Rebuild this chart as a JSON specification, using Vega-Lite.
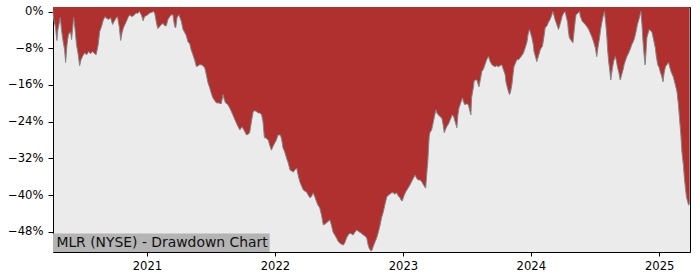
{
  "$schema": "https://vega.github.io/schema/vega-lite/v6.json",
  "width": 637,
  "height": 245,
  "autosize": {"type": "none"},
  "padding": {"left": 53, "top": 7, "right": 10, "bottom": 28},
  "background": "white",
  "config": {
    "view": {"fill": "#ebebeb", "stroke": "#000000", "strokeWidth": 1},
    "font": "DejaVu Sans"
  },
  "data": {"values": [
    {"date":"2020-04-08","drawdown":0},{"date":"2020-04-10","drawdown":-1.7},{"date":"2020-04-15","drawdown":-3.3},{"date":"2020-04-19","drawdown":-6.3},{"date":"2020-04-22","drawdown":-3.9},{"date":"2020-04-29","drawdown":-1.3},{"date":"2020-05-02","drawdown":-3.9},{"date":"2020-05-07","drawdown":-6.6},{"date":"2020-05-11","drawdown":-8.3},{"date":"2020-05-14","drawdown":-11.1},{"date":"2020-05-18","drawdown":-7.2},{"date":"2020-05-22","drawdown":-5.0},{"date":"2020-05-28","drawdown":-4.4},{"date":"2020-05-31","drawdown":-6.1},{"date":"2020-06-06","drawdown":-1.3},{"date":"2020-06-10","drawdown":-3.9},{"date":"2020-06-14","drawdown":-7.2},{"date":"2020-06-19","drawdown":-9.4},{"date":"2020-06-23","drawdown":-11.8},{"date":"2020-06-27","drawdown":-10.5},{"date":"2020-07-01","drawdown":-9.8},{"date":"2020-07-07","drawdown":-9.0},{"date":"2020-07-13","drawdown":-9.4},{"date":"2020-07-19","drawdown":-8.7},{"date":"2020-07-24","drawdown":-9.2},{"date":"2020-07-30","drawdown":-8.7},{"date":"2020-08-05","drawdown":-9.2},{"date":"2020-08-09","drawdown":-9.4},{"date":"2020-08-15","drawdown":-7.2},{"date":"2020-08-19","drawdown":-4.4},{"date":"2020-08-25","drawdown":-3.1},{"date":"2020-08-30","drawdown":-1.7},{"date":"2020-09-04","drawdown":-1.1},{"date":"2020-09-08","drawdown":-1.5},{"date":"2020-09-14","drawdown":-1.7},{"date":"2020-09-19","drawdown":-1.3},{"date":"2020-09-25","drawdown":-2.8},{"date":"2020-09-29","drawdown":-2.2},{"date":"2020-10-06","drawdown":-1.3},{"date":"2020-10-09","drawdown":-1.1},{"date":"2020-10-14","drawdown":-3.3},{"date":"2020-10-18","drawdown":-6.3},{"date":"2020-10-22","drawdown":-4.6},{"date":"2020-10-26","drawdown":-3.5},{"date":"2020-11-03","drawdown":-2.2},{"date":"2020-11-08","drawdown":-1.3},{"date":"2020-11-13","drawdown":-0.7},{"date":"2020-11-18","drawdown":-1.1},{"date":"2020-11-24","drawdown":-0.9},{"date":"2020-12-01","drawdown":-0.3},{"date":"2020-12-05","drawdown":-0.4},{"date":"2020-12-11","drawdown":0},{"date":"2020-12-17","drawdown":-0.9},{"date":"2020-12-21","drawdown":-2.0},{"date":"2020-12-25","drawdown":-1.1},{"date":"2021-01-03","drawdown":-0.7},{"date":"2021-01-09","drawdown":-0.3},{"date":"2021-01-14","drawdown":-0.2},{"date":"2021-01-19","drawdown":0},{"date":"2021-01-23","drawdown":-0.3},{"date":"2021-01-29","drawdown":-2.8},{"date":"2021-02-01","drawdown":-3.7},{"date":"2021-02-06","drawdown":-3.3},{"date":"2021-02-11","drawdown":-2.8},{"date":"2021-02-16","drawdown":-2.6},{"date":"2021-02-21","drawdown":-3.1},{"date":"2021-02-25","drawdown":-3.1},{"date":"2021-03-02","drawdown":-1.7},{"date":"2021-03-07","drawdown":-1.1},{"date":"2021-03-12","drawdown":-0.7},{"date":"2021-03-16","drawdown":-0.7},{"date":"2021-03-21","drawdown":-3.3},{"date":"2021-03-24","drawdown":-3.5},{"date":"2021-03-28","drawdown":-1.3},{"date":"2021-04-02","drawdown":-0.7},{"date":"2021-04-09","drawdown":-2.1},{"date":"2021-04-14","drawdown":-3.9},{"date":"2021-04-19","drawdown":-4.6},{"date":"2021-04-23","drawdown":-5.2},{"date":"2021-04-28","drawdown":-6.6},{"date":"2021-05-03","drawdown":-7.0},{"date":"2021-05-07","drawdown":-8.3},{"date":"2021-05-12","drawdown":-9.4},{"date":"2021-05-17","drawdown":-10.5},{"date":"2021-05-22","drawdown":-12.0},{"date":"2021-05-27","drawdown":-11.8},{"date":"2021-05-31","drawdown":-11.6},{"date":"2021-06-05","drawdown":-11.6},{"date":"2021-06-10","drawdown":-11.8},{"date":"2021-06-15","drawdown":-12.3},{"date":"2021-06-20","drawdown":-14.0},{"date":"2021-06-24","drawdown":-15.5},{"date":"2021-06-29","drawdown":-16.6},{"date":"2021-07-03","drawdown":-17.7},{"date":"2021-07-08","drawdown":-18.8},{"date":"2021-07-13","drawdown":-19.4},{"date":"2021-07-18","drawdown":-19.9},{"date":"2021-07-23","drawdown":-19.9},{"date":"2021-07-28","drawdown":-20.0},{"date":"2021-08-01","drawdown":-20.1},{"date":"2021-08-06","drawdown":-18.1},{"date":"2021-08-09","drawdown":-19.0},{"date":"2021-08-13","drawdown":-19.9},{"date":"2021-08-17","drawdown":-20.1},{"date":"2021-08-20","drawdown":-20.3},{"date":"2021-08-25","drawdown":-21.0},{"date":"2021-08-30","drawdown":-21.8},{"date":"2021-09-04","drawdown":-22.7},{"date":"2021-09-08","drawdown":-23.4},{"date":"2021-09-13","drawdown":-24.3},{"date":"2021-09-18","drawdown":-25.1},{"date":"2021-09-23","drawdown":-25.8},{"date":"2021-09-29","drawdown":-25.1},{"date":"2021-10-06","drawdown":-26.0},{"date":"2021-10-12","drawdown":-26.9},{"date":"2021-10-17","drawdown":-26.7},{"date":"2021-10-21","drawdown":-26.4},{"date":"2021-10-26","drawdown":-24.0},{"date":"2021-10-31","drawdown":-21.8},{"date":"2021-11-05","drawdown":-21.6},{"date":"2021-11-09","drawdown":-21.8},{"date":"2021-11-15","drawdown":-22.1},{"date":"2021-11-19","drawdown":-22.1},{"date":"2021-11-24","drawdown":-22.5},{"date":"2021-11-28","drawdown":-24.0},{"date":"2021-12-02","drawdown":-27.5},{"date":"2021-12-05","drawdown":-27.5},{"date":"2021-12-13","drawdown":-28.0},{"date":"2021-12-17","drawdown":-29.1},{"date":"2021-12-22","drawdown":-30.2},{"date":"2021-12-27","drawdown":-29.3},{"date":"2022-01-01","drawdown":-28.6},{"date":"2022-01-05","drawdown":-28.0},{"date":"2022-01-10","drawdown":-26.9},{"date":"2022-01-17","drawdown":-26.9},{"date":"2022-01-21","drawdown":-28.2},{"date":"2022-01-24","drawdown":-29.7},{"date":"2022-01-29","drawdown":-30.6},{"date":"2022-02-03","drawdown":-31.9},{"date":"2022-02-08","drawdown":-33.0},{"date":"2022-02-13","drawdown":-34.5},{"date":"2022-02-17","drawdown":-34.7},{"date":"2022-02-22","drawdown":-35.0},{"date":"2022-02-27","drawdown":-34.5},{"date":"2022-03-04","drawdown":-34.1},{"date":"2022-03-08","drawdown":-35.6},{"date":"2022-03-13","drawdown":-37.1},{"date":"2022-03-18","drawdown":-38.0},{"date":"2022-03-23","drawdown":-38.9},{"date":"2022-03-27","drawdown":-39.1},{"date":"2022-04-01","drawdown":-39.3},{"date":"2022-04-06","drawdown":-40.0},{"date":"2022-04-11","drawdown":-40.6},{"date":"2022-04-16","drawdown":-40.2},{"date":"2022-04-20","drawdown":-39.5},{"date":"2022-04-25","drawdown":-40.4},{"date":"2022-04-30","drawdown":-41.5},{"date":"2022-05-04","drawdown":-42.2},{"date":"2022-05-09","drawdown":-42.8},{"date":"2022-05-14","drawdown":-44.4},{"date":"2022-05-19","drawdown":-46.5},{"date":"2022-05-24","drawdown":-46.3},{"date":"2022-05-28","drawdown":-46.1},{"date":"2022-06-02","drawdown":-45.7},{"date":"2022-06-07","drawdown":-45.4},{"date":"2022-06-12","drawdown":-46.8},{"date":"2022-06-16","drawdown":-48.1},{"date":"2022-06-21","drawdown":-48.7},{"date":"2022-06-26","drawdown":-49.4},{"date":"2022-06-30","drawdown":-50.0},{"date":"2022-07-05","drawdown":-50.5},{"date":"2022-07-10","drawdown":-50.7},{"date":"2022-07-15","drawdown":-50.9},{"date":"2022-07-20","drawdown":-50.3},{"date":"2022-07-24","drawdown":-49.4},{"date":"2022-07-29","drawdown":-48.7},{"date":"2022-08-03","drawdown":-48.3},{"date":"2022-08-08","drawdown":-48.5},{"date":"2022-08-12","drawdown":-48.7},{"date":"2022-08-17","drawdown":-48.1},{"date":"2022-08-22","drawdown":-47.6},{"date":"2022-08-27","drawdown":-47.9},{"date":"2022-08-31","drawdown":-48.1},{"date":"2022-09-05","drawdown":-48.3},{"date":"2022-09-10","drawdown":-48.7},{"date":"2022-09-15","drawdown":-48.9},{"date":"2022-09-20","drawdown":-49.4},{"date":"2022-09-24","drawdown":-50.9},{"date":"2022-09-27","drawdown":-51.6},{"date":"2022-10-02","drawdown":-52.2},{"date":"2022-10-05","drawdown":-52.0},{"date":"2022-10-08","drawdown":-51.3},{"date":"2022-10-13","drawdown":-50.3},{"date":"2022-10-18","drawdown":-49.4},{"date":"2022-10-23","drawdown":-48.1},{"date":"2022-10-28","drawdown":-46.5},{"date":"2022-11-01","drawdown":-45.0},{"date":"2022-11-06","drawdown":-43.7},{"date":"2022-11-11","drawdown":-42.0},{"date":"2022-11-16","drawdown":-40.4},{"date":"2022-11-21","drawdown":-40.0},{"date":"2022-11-25","drawdown":-39.8},{"date":"2022-11-30","drawdown":-39.5},{"date":"2022-12-05","drawdown":-39.5},{"date":"2022-12-09","drawdown":-39.8},{"date":"2022-12-14","drawdown":-39.5},{"date":"2022-12-19","drawdown":-40.2},{"date":"2022-12-24","drawdown":-40.6},{"date":"2022-12-27","drawdown":-41.1},{"date":"2022-12-30","drawdown":-41.3},{"date":"2023-01-04","drawdown":-40.2},{"date":"2023-01-09","drawdown":-39.3},{"date":"2023-01-14","drawdown":-38.7},{"date":"2023-01-21","drawdown":-37.8},{"date":"2023-01-27","drawdown":-36.9},{"date":"2023-01-31","drawdown":-36.3},{"date":"2023-02-05","drawdown":-35.6},{"date":"2023-02-09","drawdown":-36.3},{"date":"2023-02-14","drawdown":-36.7},{"date":"2023-02-19","drawdown":-36.7},{"date":"2023-02-24","drawdown":-37.1},{"date":"2023-03-01","drawdown":-37.8},{"date":"2023-03-07","drawdown":-38.5},{"date":"2023-03-11","drawdown":-34.5},{"date":"2023-03-13","drawdown":-32.8},{"date":"2023-03-17","drawdown":-27.3},{"date":"2023-03-19","drawdown":-26.4},{"date":"2023-03-24","drawdown":-25.8},{"date":"2023-03-29","drawdown":-24.0},{"date":"2023-04-05","drawdown":-21.4},{"date":"2023-04-08","drawdown":-22.1},{"date":"2023-04-12","drawdown":-22.5},{"date":"2023-04-17","drawdown":-22.9},{"date":"2023-04-22","drawdown":-23.2},{"date":"2023-04-26","drawdown":-24.7},{"date":"2023-04-29","drawdown":-26.4},{"date":"2023-05-03","drawdown":-25.6},{"date":"2023-05-06","drawdown":-25.1},{"date":"2023-05-11","drawdown":-24.5},{"date":"2023-05-16","drawdown":-23.6},{"date":"2023-05-22","drawdown":-22.5},{"date":"2023-05-26","drawdown":-22.9},{"date":"2023-05-30","drawdown":-24.0},{"date":"2023-06-04","drawdown":-25.3},{"date":"2023-06-07","drawdown":-22.5},{"date":"2023-06-10","drawdown":-21.0},{"date":"2023-06-15","drawdown":-19.9},{"date":"2023-06-20","drawdown":-18.8},{"date":"2023-06-23","drawdown":-19.7},{"date":"2023-06-27","drawdown":-20.3},{"date":"2023-07-02","drawdown":-20.1},{"date":"2023-07-07","drawdown":-20.3},{"date":"2023-07-10","drawdown":-21.4},{"date":"2023-07-14","drawdown":-22.5},{"date":"2023-07-16","drawdown":-18.8},{"date":"2023-07-21","drawdown":-16.6},{"date":"2023-07-23","drawdown":-15.3},{"date":"2023-07-26","drawdown":-14.9},{"date":"2023-07-31","drawdown":-14.9},{"date":"2023-08-06","drawdown":-16.4},{"date":"2023-08-11","drawdown":-14.4},{"date":"2023-08-14","drawdown":-13.1},{"date":"2023-08-19","drawdown":-12.5},{"date":"2023-08-23","drawdown":-11.6},{"date":"2023-08-28","drawdown":-10.5},{"date":"2023-09-02","drawdown":-9.8},{"date":"2023-09-07","drawdown":-10.9},{"date":"2023-09-12","drawdown":-11.6},{"date":"2023-09-16","drawdown":-11.8},{"date":"2023-09-21","drawdown":-12.0},{"date":"2023-09-26","drawdown":-11.8},{"date":"2023-09-30","drawdown":-12.0},{"date":"2023-10-05","drawdown":-11.8},{"date":"2023-10-10","drawdown":-11.6},{"date":"2023-10-15","drawdown":-12.7},{"date":"2023-10-20","drawdown":-13.8},{"date":"2023-10-22","drawdown":-15.3},{"date":"2023-10-26","drawdown":-16.6},{"date":"2023-11-01","drawdown":-18.1},{"date":"2023-11-04","drawdown":-17.5},{"date":"2023-11-08","drawdown":-15.9},{"date":"2023-11-11","drawdown":-13.8},{"date":"2023-11-14","drawdown":-12.0},{"date":"2023-11-19","drawdown":-11.1},{"date":"2023-11-22","drawdown":-10.5},{"date":"2023-11-27","drawdown":-10.5},{"date":"2023-12-01","drawdown":-10.1},{"date":"2023-12-06","drawdown":-9.6},{"date":"2023-12-11","drawdown":-9.0},{"date":"2023-12-16","drawdown":-7.9},{"date":"2023-12-21","drawdown":-6.6},{"date":"2023-12-24","drawdown":-5.0},{"date":"2023-12-28","drawdown":-3.9},{"date":"2023-12-31","drawdown":-4.6},{"date":"2024-01-04","drawdown":-5.7},{"date":"2024-01-08","drawdown":-7.2},{"date":"2024-01-10","drawdown":-8.7},{"date":"2024-01-14","drawdown":-9.8},{"date":"2024-01-18","drawdown":-10.9},{"date":"2024-01-23","drawdown":-9.6},{"date":"2024-01-28","drawdown":-8.3},{"date":"2024-01-31","drawdown":-7.9},{"date":"2024-02-03","drawdown":-7.6},{"date":"2024-02-07","drawdown":-5.7},{"date":"2024-02-11","drawdown":-3.5},{"date":"2024-02-16","drawdown":-3.1},{"date":"2024-02-20","drawdown":-2.4},{"date":"2024-02-25","drawdown":-1.7},{"date":"2024-02-29","drawdown":-0.9},{"date":"2024-03-04","drawdown":0},{"date":"2024-03-08","drawdown":-1.1},{"date":"2024-03-10","drawdown":-1.7},{"date":"2024-03-15","drawdown":-2.8},{"date":"2024-03-20","drawdown":-3.9},{"date":"2024-03-25","drawdown":-2.6},{"date":"2024-03-30","drawdown":-1.1},{"date":"2024-04-03","drawdown":-0.4},{"date":"2024-04-08","drawdown":0},{"date":"2024-04-11","drawdown":-1.1},{"date":"2024-04-15","drawdown":-2.4},{"date":"2024-04-17","drawdown":-4.2},{"date":"2024-04-20","drawdown":-5.7},{"date":"2024-04-25","drawdown":-6.3},{"date":"2024-04-30","drawdown":-6.8},{"date":"2024-05-04","drawdown":-3.9},{"date":"2024-05-07","drawdown":-1.7},{"date":"2024-05-09","drawdown":-0.7},{"date":"2024-05-14","drawdown":-0.3},{"date":"2024-05-19","drawdown":0},{"date":"2024-05-21","drawdown":-1.0},{"date":"2024-05-26","drawdown":-2.0},{"date":"2024-05-30","drawdown":-2.4},{"date":"2024-06-04","drawdown":-2.8},{"date":"2024-06-09","drawdown":-3.3},{"date":"2024-06-14","drawdown":-3.9},{"date":"2024-06-18","drawdown":-4.6},{"date":"2024-06-23","drawdown":-5.5},{"date":"2024-06-28","drawdown":-6.6},{"date":"2024-07-03","drawdown":-7.9},{"date":"2024-07-07","drawdown":-9.8},{"date":"2024-07-11","drawdown":-7.6},{"date":"2024-07-15","drawdown":-5.7},{"date":"2024-07-18","drawdown":-3.9},{"date":"2024-07-22","drawdown":-2.2},{"date":"2024-07-25","drawdown":-1.1},{"date":"2024-07-29","drawdown":0},{"date":"2024-08-02","drawdown":-2.8},{"date":"2024-08-05","drawdown":-5.7},{"date":"2024-08-07","drawdown":-8.3},{"date":"2024-08-10","drawdown":-10.9},{"date":"2024-08-13","drawdown":-12.7},{"date":"2024-08-16","drawdown":-14.9},{"date":"2024-08-20","drawdown":-12.7},{"date":"2024-08-24","drawdown":-10.9},{"date":"2024-08-29","drawdown":-9.8},{"date":"2024-09-01","drawdown":-10.7},{"date":"2024-09-04","drawdown":-12.0},{"date":"2024-09-08","drawdown":-13.3},{"date":"2024-09-12","drawdown":-14.9},{"date":"2024-09-16","drawdown":-13.8},{"date":"2024-09-20","drawdown":-12.7},{"date":"2024-09-23","drawdown":-11.6},{"date":"2024-09-26","drawdown":-10.9},{"date":"2024-10-01","drawdown":-9.8},{"date":"2024-10-06","drawdown":-9.0},{"date":"2024-10-11","drawdown":-8.1},{"date":"2024-10-15","drawdown":-7.2},{"date":"2024-10-19","drawdown":-6.6},{"date":"2024-10-23","drawdown":-5.7},{"date":"2024-10-27","drawdown":-4.4},{"date":"2024-10-31","drawdown":-2.8},{"date":"2024-11-05","drawdown":-1.5},{"date":"2024-11-10","drawdown":0},{"date":"2024-11-13","drawdown":-2.8},{"date":"2024-11-16","drawdown":-6.6},{"date":"2024-11-19","drawdown":-9.4},{"date":"2024-11-22","drawdown":-11.6},{"date":"2024-11-25","drawdown":-8.3},{"date":"2024-11-27","drawdown":-5.7},{"date":"2024-12-01","drawdown":-4.6},{"date":"2024-12-04","drawdown":-3.9},{"date":"2024-12-08","drawdown":-4.2},{"date":"2024-12-12","drawdown":-4.6},{"date":"2024-12-16","drawdown":-6.1},{"date":"2024-12-21","drawdown":-7.9},{"date":"2024-12-24","drawdown":-9.8},{"date":"2024-12-28","drawdown":-11.6},{"date":"2025-01-01","drawdown":-12.2},{"date":"2025-01-04","drawdown":-13.1},{"date":"2025-01-08","drawdown":-14.0},{"date":"2025-01-12","drawdown":-15.3},{"date":"2025-01-15","drawdown":-13.5},{"date":"2025-01-19","drawdown":-12.0},{"date":"2025-01-23","drawdown":-11.6},{"date":"2025-01-28","drawdown":-11.1},{"date":"2025-01-31","drawdown":-12.0},{"date":"2025-02-04","drawdown":-13.1},{"date":"2025-02-08","drawdown":-13.8},{"date":"2025-02-11","drawdown":-14.4},{"date":"2025-02-16","drawdown":-15.9},{"date":"2025-02-21","drawdown":-17.5},{"date":"2025-02-25","drawdown":-20.3},{"date":"2025-02-28","drawdown":-23.2},{"date":"2025-03-04","drawdown":-26.9},{"date":"2025-03-07","drawdown":-30.6},{"date":"2025-03-11","drawdown":-33.4},{"date":"2025-03-14","drawdown":-36.3},{"date":"2025-03-17","drawdown":-38.5},{"date":"2025-03-20","drawdown":-40.4},{"date":"2025-03-23","drawdown":-41.3},{"date":"2025-03-26","drawdown":-42.2},{"date":"2025-03-29","drawdown":-41.7}
  ]},
  "layer": [
    {
      "mark": {"type": "area", "color": "#b03030", "interpolate": "linear"},
      "encoding": {
        "x": {
          "field": "date", "type": "temporal",
          "scale": {"type": "utc", "domain": [1586304000000, 1743292800000], "nice": false},
          "axis": {
            "title": null, "grid": false, "domain": false,
            "values": [1609459200000, 1640995200000, 1672531200000, 1704067200000, 1735689600000],
            "labelExpr": "utcFormat(datum.value, '%Y')",
            "tickColor": "#000000", "tickSize": 4, "tickWidth": 1,
            "labelColor": "#000000", "labelFont": "DejaVu Sans", "labelFontSize": 11.6, "labelPadding": 4, "labelFlush": false
          }
        },
        "y": {
          "field": "drawdown", "type": "quantitative",
          "scale": {"domain": [-52.4, 1.0], "nice": false, "zero": false},
          "axis": {
            "title": null, "grid": false, "domain": false,
            "values": [0, -8, -16, -24, -32, -40, -48],
            "labelExpr": "format(datum.value, 'd') + '%'",
            "tickColor": "#000000", "tickSize": 5, "tickWidth": 1,
            "labelColor": "#000000", "labelFont": "DejaVu Sans", "labelFontSize": 11.6, "labelPadding": 5
          }
        },
        "y2": {"datum": 1.0}
      }
    },
    {
      "mark": {"type": "line", "color": "#858585", "strokeWidth": 1, "interpolate": "linear"},
      "encoding": {
        "x": {"field": "date", "type": "temporal"},
        "y": {"field": "drawdown", "type": "quantitative"}
      }
    },
    {
      "data": {"values": [{"label": "MLR (NYSE) - Drawdown Chart"}]},
      "mark": {"type": "rect", "color": "#b4b4b4"},
      "encoding": {
        "x": {"datum": 1586304000000, "type": "temporal"},
        "x2": {"datum": 1639699200000},
        "y": {"datum": -52.4, "type": "quantitative"},
        "y2": {"datum": -48.35}
      }
    },
    {
      "data": {"values": [{"label": "MLR (NYSE) - Drawdown Chart"}]},
      "mark": {"type": "text", "align": "left", "baseline": "alphabetic", "dx": 3.4, "font": "DejaVu Sans", "fontSize": 13.9, "color": "#111111"},
      "encoding": {
        "x": {"datum": 1586304000000, "type": "temporal"},
        "y": {"datum": -51.4, "type": "quantitative"},
        "text": {"field": "label", "type": "nominal"}
      }
    }
  ]
}
